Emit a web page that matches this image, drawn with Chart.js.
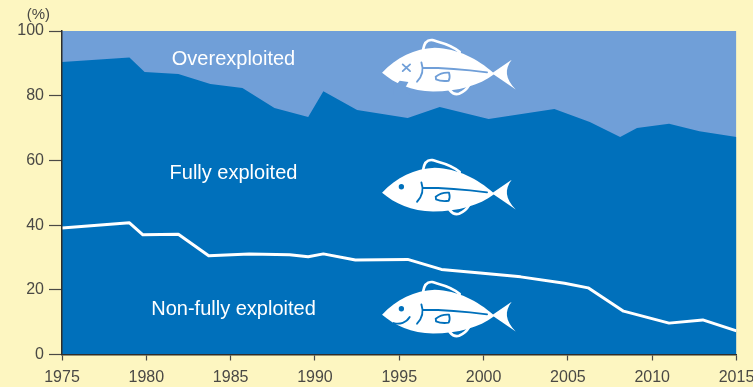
<!DOCTYPE html>
<html>
<head>
<meta charset="utf-8">
<style>
  html, body { margin: 0; padding: 0; background: #fdf6c1; }
  #wrap { width: 753px; height: 387px; }
</style>
<script src="https://cdn.jsdelivr.net/npm/chart.js@4/dist/chart.umd.min.js"></script>
</head>
<body>
<div id="wrap"><canvas id="stocks"></canvas></div>
<script>
const boundaryYears = [1975, 1979, 1979.9, 1981.9, 1983.8, 1985.7, 1987.6, 1989.6, 1990.5, 1992.5,
    1995.5, 1997.4, 2000.3, 2004.2, 2006.3, 2008.1, 2009.1, 2011, 2012.8, 2015];
const fullyTop = [90.4, 91.8, 87.3, 86.7, 83.6, 82.4, 76.2, 73.4, 81.4, 75.6,
    73.1, 76.5, 72.8, 75.9, 71.9, 67.2, 70, 71.3, 69, 67.2];

const nonFullyYears = [1975, 1979, 1979.8, 1981.9, 1983.7, 1986.1, 1988.5, 1989.6, 1990.5, 1992.4,
    1995.5, 1997.5, 1999.8, 2002.2, 2004.8, 2006.2, 2008.3, 2011, 2013, 2015];
const nonFully = [39.1, 40.7, 37, 37.2, 30.5, 31.1, 30.8, 30.2, 31.1, 29.2,
    29.4, 26.3, 25.2, 24, 22, 20.6, 13.4, 9.7, 10.7, 7.3];

const overYears = [1975, 2015];
const overTop = [100, 100];

const xTicks = [1975, 1980, 1985, 1990, 1995, 2000, 2005, 2010, 2015];
const yTicks = [0, 20, 40, 60, 80, 100];

const areaLabels = ['Overexploited', 'Fully exploited', 'Non-fully exploited'];
const labelAnchors = [[1985.17, 91.1], [1985.17, 55.9], [1985.17, 14]];
const fishAnchors = [[1993.98, 87.1, 'dead'], [1993.98, 50, 'alive'], [1993.98, 12.3, 'happy']];

const DARK = '#0070bb';
const LIGHT = '#709fd8';
const INK = '#4a4945';
const FONT = '"Liberation Sans", Arial, sans-serif';

function toPoints(xs, ys) {
    return xs.map((x, i) => ({ x: x, y: ys[i] }));
}

// fish outline is sketched on a 3x grid, scaled down when drawn
function drawFish(ctx, x, y, kind, ink) {
    ctx.save();
    ctx.translate(x, y);
    ctx.scale(1 / 3, 1 / 3);
    ctx.translate(-37, -128);
    ctx.lineCap = 'round';
    ctx.lineJoin = 'round';

    // dorsal and ventral fins, white loops
    ctx.strokeStyle = '#fff';
    ctx.lineWidth = 8;
    ctx.beginPath();
    ctx.moveTo(160, 60);
    ctx.bezierCurveTo(163, 40, 172, 28, 188, 30);
    ctx.bezierCurveTo(205, 36, 245, 42, 270, 66);
    ctx.moveTo(240, 180);
    ctx.bezierCurveTo(248, 190, 256, 195, 268, 191);
    ctx.bezierCurveTo(280, 186, 292, 176, 298, 165);
    ctx.stroke();

    // body and tail
    ctx.fillStyle = '#fff';
    ctx.beginPath();
    ctx.moveTo(37, 128);
    ctx.bezierCurveTo(80, 82, 135, 55, 195, 53);
    ctx.bezierCurveTo(265, 55, 325, 88, 370, 127);
    ctx.lineTo(426, 89);
    ctx.bezierCurveTo(404, 118, 406, 145, 438, 178);
    ctx.lineTo(372, 133);
    ctx.bezierCurveTo(330, 165, 265, 184, 190, 184);
    ctx.bezierCurveTo(125, 184, 75, 160, 37, 128);
    ctx.closePath();
    ctx.fill();

    // gill, lateral line and pectoral fin
    ctx.strokeStyle = ink;
    ctx.lineWidth = 5.5;
    ctx.beginPath();
    ctx.moveTo(155, 97);
    ctx.bezierCurveTo(163, 120, 156, 140, 142, 155);
    ctx.moveTo(160, 113);
    ctx.bezierCurveTo(220, 113, 300, 120, 352, 127);
    ctx.moveTo(198, 140);
    ctx.bezierCurveTo(208, 132, 225, 127, 238, 128);
    ctx.bezierCurveTo(241, 138, 240, 146, 237, 152);
    ctx.bezierCurveTo(222, 154, 208, 152, 199, 148);
    ctx.lineTo(198, 140);
    ctx.stroke();

    if (kind === 'dead') {
        // crossed eye and a bite out of the jaw
        ctx.beginPath();
        ctx.moveTo(99, 103);
        ctx.lineTo(121, 123);
        ctx.moveTo(121, 103);
        ctx.lineTo(99, 123);
        ctx.stroke();
        ctx.fillStyle = ink;
        ctx.beginPath();
        ctx.moveTo(72, 174);
        ctx.lineTo(90, 152);
        ctx.lineTo(116, 156);
        ctx.lineTo(107, 172);
        ctx.lineTo(120, 195);
        ctx.lineTo(72, 195);
        ctx.closePath();
        ctx.fill();
    } else {
        ctx.fillStyle = ink;
        ctx.beginPath();
        ctx.arc(95, 110, 8, 0, Math.PI * 2);
        ctx.fill();
        if (kind === 'happy') {
            ctx.beginPath();
            ctx.moveTo(72, 153);
            ctx.bezierCurveTo(90, 158, 110, 152, 120, 135);
            ctx.stroke();
        }
    }
    ctx.restore();
}

const decorations = {
    id: 'decorations',
    afterDatasetsDraw(chart) {
        const ctx = chart.ctx;
        const sx = chart.scales.x;
        const sy = chart.scales.y;

        fishAnchors.forEach(([yr, val, kind]) => {
            drawFish(ctx, sx.getPixelForValue(yr), sy.getPixelForValue(val), kind, kind === 'dead' ? LIGHT : DARK);
        });

        ctx.save();
        ctx.fillStyle = '#fff';
        ctx.font = '20px ' + FONT;
        ctx.textAlign = 'center';
        ctx.textBaseline = 'middle';
        areaLabels.forEach((text, i) => {
            const [yr, val] = labelAnchors[i];
            ctx.fillText(text, sx.getPixelForValue(yr), sy.getPixelForValue(val));
        });

        // unit label above the y axis
        ctx.fillStyle = INK;
        ctx.font = '15px ' + FONT;
        ctx.fillText('(%)', sx.getPixelForValue(1973.6), sy.getPixelForValue(105));
        ctx.restore();
    }
};

new Chart(document.getElementById('stocks'), {
    type: 'line',
    data: {
        datasets: [
            {
                label: areaLabels[2],
                data: toPoints(nonFullyYears, nonFully),
                borderColor: '#fff',
                borderWidth: 3,
                borderJoinStyle: 'round',
                pointRadius: 0,
                fill: false,
                order: 0
            },
            {
                label: areaLabels[1],
                data: toPoints(boundaryYears, fullyTop),
                borderWidth: 0,
                pointRadius: 0,
                backgroundColor: DARK,
                fill: 'origin',
                order: 1
            },
            {
                label: areaLabels[0],
                data: toPoints(overYears, overTop),
                borderWidth: 0,
                pointRadius: 0,
                backgroundColor: LIGHT,
                fill: 'origin',
                order: 2
            }
        ]
    },
    options: {
        responsive: true,
        maintainAspectRatio: false,
        animation: false,
        events: [],
        layout: { padding: { top: 31, right: 16.5, bottom: 0, left: 0 } },
        plugins: { legend: { display: false }, tooltip: { enabled: false } },
        scales: {
            x: {
                type: 'linear',
                min: 1975,
                max: 2015,
                afterBuildTicks: axis => { axis.ticks = xTicks.map(v => ({ value: v })); },
                afterFit: axis => { axis.height = 32.5; axis.paddingRight = 0; axis.paddingLeft = 0; },
                grid: { drawOnChartArea: false, drawTicks: true, tickLength: 6, tickColor: INK, tickWidth: 1.2 },
                border: { color: '#2f2e2b', width: 1.5, z: 1 },
                ticks: {
                    color: INK,
                    font: { family: FONT, size: 16 },
                    padding: 7,
                    maxRotation: 0,
                    autoSkip: false,
                    callback: v => String(v)
                }
            },
            y: {
                min: 0,
                max: 100,
                afterBuildTicks: axis => { axis.ticks = yTicks.map(v => ({ value: v })); },
                afterFit: axis => { axis.width = 62; axis.paddingTop = 0; axis.paddingBottom = 0; },
                grid: { drawOnChartArea: false, drawTicks: true, tickLength: 13, tickColor: INK, tickWidth: 1.2 },
                border: { color: '#2f2e2b', width: 1.5, z: 1 },
                ticks: {
                    color: INK,
                    font: { family: FONT, size: 16 },
                    padding: 5
                }
            }
        }
    },
    plugins: [decorations]
});
</script>
</body>
</html>
